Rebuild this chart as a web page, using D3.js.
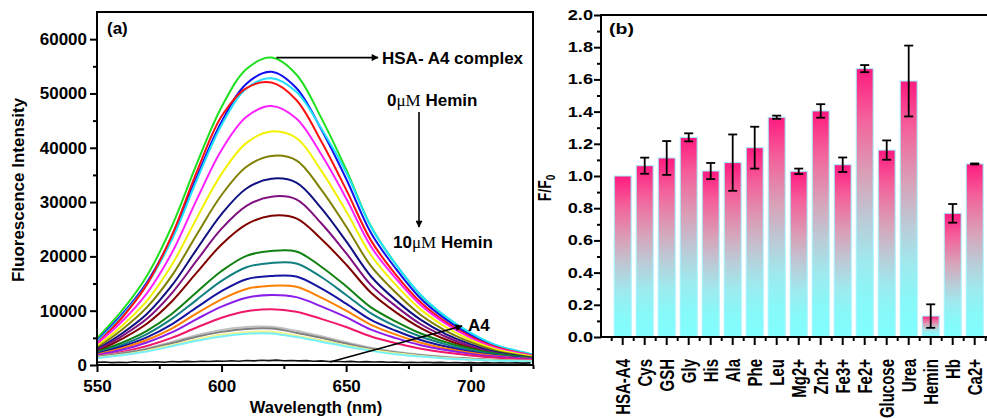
<!DOCTYPE html>
<html>
<head>
<meta charset="utf-8">
<script src="https://cdn.jsdelivr.net/npm/d3@7"></script>
<style>
  body { margin: 0; background: #fff; }
  svg { display: block; }
  text { font-family: Arial, "Liberation Sans", sans-serif; font-weight: bold; fill: #000; }
  .axis path { display: none; }
  .axis line { stroke: #000; stroke-width: 2; }
  .axis text { font-size: 17px; }
</style>
</head>
<body>
<svg id="chart" width="987" height="419"></svg>
<script>
// ---------- Panel (a): fluorescence emission spectra ----------
const wavelengths = [550, 560, 570, 580, 590, 600, 610, 620, 630, 640, 650, 660, 670, 680, 690, 700, 710, 725];

// HSA-A4 complex at 0 µM hemin down to 10 µM hemin
const specGreen      = [4900, 10000, 16400, 25500, 37000, 47500, 54500, 56600, 53500, 45500, 36000, 25500, 18500, 12800, 8800, 5800, 3600, 1900];
const specBlue       = [4500, 9300, 15200, 23600, 34600, 44800, 51800, 54000, 51000, 43400, 34300, 24300, 17700, 12200, 8400, 5500, 3500, 1850];
const specCyan       = [4300, 9000, 14800, 23000, 34000, 44200, 50900, 52800, 50300, 43600, 35500, 25400, 18500, 12900, 8900, 5900, 3700, 1950];
const specRed        = [4000, 8700, 14800, 23800, 35500, 45800, 51000, 52000, 48800, 41200, 32300, 22900, 16600, 11500, 7900, 5200, 3300, 1750];
const specMagenta    = [3900, 8000, 13200, 20600, 30400, 39600, 45700, 47700, 45400, 38800, 30700, 21800, 15900, 11000, 7600, 5000, 3150, 1700];
const specYellow     = [3500, 7200, 11800, 18400, 27000, 35200, 40900, 43000, 41800, 35800, 28300, 20200, 14700, 10200, 7000, 4600, 2900, 1550];
const specOlive      = [3200, 6500, 10600, 16400, 24000, 31300, 36500, 38500, 37700, 32300, 25500, 18200, 13300, 9200, 6300, 4200, 2650, 1400];
const specNavy       = [2900, 5800, 9400, 14600, 21300, 27800, 32500, 34300, 33600, 28900, 22800, 16300, 11900, 8300, 5700, 3800, 2400, 1300];
const specPurple     = [2700, 5300, 8500, 13200, 19200, 25100, 29300, 31000, 30500, 26100, 20600, 14700, 10800, 7500, 5200, 3450, 2200, 1200];
const specMaroon     = [2450, 4800, 7600, 11700, 17000, 22200, 25900, 27500, 27000, 23200, 18500, 13300, 9700, 6800, 4700, 3150, 2000, 1100];
const specDarkGreen  = [2400, 4100, 6300, 9400, 13400, 17300, 20100, 21000, 20900, 18100, 14500, 10600, 8000, 5800, 4200, 3000, 2100, 1300];
const specTeal       = [2200, 3700, 5700, 8500, 12000, 15500, 18000, 18800, 18700, 16200, 12900, 9500, 7100, 5200, 3800, 2700, 1900, 1200];
const specDarkBlue   = [2100, 3400, 5100, 7500, 10600, 13600, 15800, 16400, 16300, 14100, 11300, 8300, 6300, 4600, 3400, 2450, 1750, 1150];
const specOrange     = [1950, 3100, 4600, 6700, 9500, 12100, 14000, 14600, 14400, 12400, 10000, 7400, 5600, 4100, 3050, 2250, 1650, 1100];
const specViolet     = [1800, 2800, 4150, 6000, 8450, 10750, 12400, 12900, 12500, 10800, 8800, 6500, 4950, 3650, 2750, 2050, 1550, 1050];
const specCrimson    = [1600, 2400, 3500, 5000, 6900, 8700, 9900, 10250, 9800, 8500, 7000, 5250, 4000, 3000, 2300, 1750, 1350, 950];
const specLightGray  = [1550, 2200, 3050, 4250, 5500, 6450, 7000, 7050, 6300, 5300, 4200, 3200, 2450, 1900, 1500, 1200, 950, 800];
const specGray       = [1450, 2100, 2900, 4000, 5200, 6100, 6650, 6700, 5950, 5000, 3950, 3000, 2300, 1800, 1400, 1150, 900, 750];
const specPaleYellow = [1350, 1900, 2650, 3650, 4700, 5550, 6050, 6100, 5400, 4550, 3600, 2750, 2150, 1650, 1300, 1050, 850, 700];
const specPaleCyan   = [1250, 1800, 2500, 3450, 4450, 5250, 5750, 5800, 5150, 4300, 3400, 2600, 2000, 1550, 1200, 980, 800, 650];

const spectra = [specGreen, specBlue, specCyan, specRed, specMagenta, specYellow, specOlive, specNavy,
  specPurple, specMaroon, specDarkGreen, specTeal, specDarkBlue, specOrange, specViolet, specCrimson,
  specLightGray, specGray, specPaleYellow, specPaleCyan];
const spectraColors = ["#1ee01e", "#1010f0", "#20e0ff", "#ff1010", "#ff20ff", "#f2f200", "#808000", "#101080",
  "#801080", "#800000", "#108010", "#108080", "#1414a0", "#ff8000", "#8c1ce8", "#f01868",
  "#c0c0c0", "#808080", "#f2f28a", "#78f0f8"];

// A4 alone (free probe), sampled every 3 nm
const a4Wavelengths = [550, 553, 556, 559, 562, 565, 568, 571, 574, 577, 580, 583, 586, 589, 592, 595, 598, 601, 604, 607,
  610, 613, 616, 619, 622, 625, 628, 631, 634, 637, 640, 643, 646, 649, 652, 655, 658, 661, 664, 667,
  670, 673, 676, 679, 682, 685, 688, 691, 694, 697, 700, 703, 706, 709, 712, 715, 718, 721, 724];
const a4Intensity = [480, 560, 430, 520, 470, 590, 500, 560, 610, 520, 640, 580, 660, 600, 700, 640, 720, 680, 780, 700,
  820, 760, 880, 800, 900, 780, 840, 760, 800, 700, 760, 640, 700, 600, 660, 560, 620, 540, 580, 500,
  560, 470, 520, 450, 500, 430, 480, 420, 460, 400, 440, 380, 430, 370, 420, 360, 400, 350, 390];

const xTicksA = [550, 600, 650, 700];
const xMinorA = [575, 625, 675, 725];
const yTicksA = [0, 10000, 20000, 30000, 40000, 50000, 60000];
const yMinorA = [5000, 15000, 25000, 35000, 45000, 55000];

// ---------- Panel (b): selectivity ----------
const categories = ["HSA-A4", "Cys", "GSH", "Gly", "His", "Ala", "Phe", "Leu", "Mg2+", "Zn2+",
  "Fe3+", "Fe2+", "Glucose", "Urea", "Hemin", "Hb", "Ca2+"];
const ratioValues = [1.00, 1.064, 1.112, 1.24, 1.031, 1.083, 1.176, 1.365, 1.029, 1.404,
  1.070, 1.667, 1.161, 1.59, 0.130, 0.768, 1.075];
const ratioErrors = [0, 0.05, 0.105, 0.025, 0.05, 0.175, 0.13, 0.01, 0.017, 0.042,
  0.045, 0.022, 0.06, 0.22, 0.073, 0.058, 0.003];
const yTicksB = [0, 0.2, 0.4, 0.6, 0.8, 1.0, 1.2, 1.4, 1.6, 1.8, 2.0];
const yMinorB = [0.1, 0.3, 0.5, 0.7, 0.9, 1.1, 1.3, 1.5, 1.7, 1.9];

const svg = d3.select("#chart");
const defs = svg.append("defs");

defs.append("marker")
  .attr("id", "arrowHead")
  .attr("viewBox", "0 0 10 10")
  .attr("refX", 9).attr("refY", 5)
  .attr("markerWidth", 9).attr("markerHeight", 7)
  .attr("markerUnits", "userSpaceOnUse")
  .attr("orient", "auto")
  .append("path").attr("d", "M0,0L10,5L0,10Z").attr("fill", "#000");

const grad = defs.append("linearGradient")
  .attr("id", "barFill").attr("x1", 0).attr("y1", 0).attr("x2", 0).attr("y2", 1);
[[0, "#ff1a80"], [0.18, "#f4609a"], [0.4, "#d8a2b8"], [0.56, "#bccad6"], [0.72, "#9eeaee"], [0.86, "#88f8f8"], [1, "#80ffff"]]
  .forEach(([o, c]) => grad.append("stop").attr("offset", o).attr("stop-color", c));

// ===== Panel (a) =====
const xA = d3.scaleLinear().domain([550, 725]).range([97, 533]);
const yA = d3.scaleLinear().domain([0, 65000]).range([365, 12]);

defs.append("clipPath").attr("id", "clipA")
  .append("rect").attr("x", 97).attr("y", 12).attr("width", 436).attr("height", 353);

const lineA = d3.line()
  .x((d, i) => xA(wavelengths[i]))
  .y(d => yA(d))
  .curve(d3.curveCatmullRom.alpha(0.5));

const curves = svg.append("g").attr("clip-path", "url(#clipA)");
spectra.forEach((s, i) => {
  curves.append("path")
    .attr("d", lineA(s))
    .attr("fill", "none")
    .attr("stroke", spectraColors[i])
    .attr("stroke-width", 2);
});
curves.append("path")
  .attr("d", d3.line().x((d, i) => xA(a4Wavelengths[i])).y(d => yA(d))(a4Intensity))
  .attr("fill", "none").attr("stroke", "#111").attr("stroke-width", 1.6);

// axes of panel (a)
svg.append("g").attr("class", "axis").attr("transform", "translate(97,0)")
  .call(d3.axisLeft(yA).tickValues(yTicksA).tickFormat(d3.format("d")).tickSize(7).tickPadding(3).tickSizeOuter(0));
svg.append("g").attr("class", "axis").attr("transform", "translate(97,0)")
  .call(d3.axisLeft(yA).tickValues(yMinorA).tickFormat("").tickSize(4).tickSizeOuter(0));
svg.append("g").attr("class", "axis").attr("transform", "translate(0,365)")
  .call(d3.axisBottom(xA).tickValues(xTicksA).tickFormat(d3.format("d")).tickSize(7).tickPadding(8).tickSizeOuter(0));
svg.append("g").attr("class", "axis").attr("transform", "translate(0,365)")
  .call(d3.axisBottom(xA).tickValues(xMinorA).tickFormat("").tickSize(4).tickSizeOuter(0));

svg.append("rect").attr("x", 97).attr("y", 12).attr("width", 436).attr("height", 353)
  .attr("fill", "none").attr("stroke", "#000").attr("stroke-width", 2);

svg.append("text").attr("x", 107).attr("y", 34).style("font-size", "17px").text("(a)");
svg.append("text").attr("transform", "translate(24,190) rotate(-90)")
  .attr("text-anchor", "middle").style("font-size", "17px").text("Fluorescence Intensity");
svg.append("text").attr("x", 316).attr("y", 413)
  .attr("text-anchor", "middle").style("font-size", "16.5px").text("Wavelength (nm)");

// annotations of panel (a)
const arrow = (x1, y1, x2, y2) => svg.append("line")
  .attr("x1", x1).attr("y1", y1).attr("x2", x2).attr("y2", y2)
  .attr("stroke", "#000").attr("stroke-width", 1.6).attr("marker-end", "url(#arrowHead)");

arrow(xA(622), yA(d3.max(specGreen)), 378, yA(d3.max(specGreen)));
svg.append("text").attr("x", 382).attr("y", 64).style("font-size", "17px").text("HSA- A4 complex");

const hemLabel = (x, y, conc) => {
  const t = svg.append("text").attr("x", x).attr("y", y).style("font-size", "17px");
  t.append("tspan").text(conc);
  t.append("tspan").style("font-family", "'Liberation Serif', 'Times New Roman', serif")
    .style("font-weight", "normal").text("\u03bcM");
  t.append("tspan").text(" Hemin");
};
hemLabel(387, 106, "0");
arrow(419, 112, 419, 227);
hemLabel(393, 248, "10");

arrow(330, 362, 462, 326);
svg.append("text").attr("x", 468).attr("y", 331).style("font-size", "17px").text("A4");

// ===== Panel (b) =====
const xB = d3.scaleBand().domain(categories).range([611.7, 985.7]).paddingInner(0.23).paddingOuter(0.115);
const yB = d3.scaleLinear().domain([0, 2]).range([337, 15]);

svg.append("g").selectAll("rect").data(categories).join("rect")
  .attr("x", d => xB(d))
  .attr("y", (d, i) => yB(ratioValues[i]))
  .attr("width", xB.bandwidth())
  .attr("height", (d, i) => yB(0) - yB(ratioValues[i]))
  .attr("fill", "url(#barFill)")
  .attr("stroke", "#9ff4ff").attr("stroke-width", 1);

const errG = svg.append("g").attr("stroke", "#000").attr("stroke-width", 1.8);
categories.forEach((c, i) => {
  const e = ratioErrors[i];
  if (!e) return;
  const cx = xB(c) + xB.bandwidth() / 2;
  const top = yB(ratioValues[i] + e), bot = yB(ratioValues[i] - e);
  errG.append("line").attr("x1", cx).attr("x2", cx).attr("y1", top).attr("y2", bot);
  errG.append("line").attr("x1", cx - 4.5).attr("x2", cx + 4.5).attr("y1", top).attr("y2", top);
  errG.append("line").attr("x1", cx - 4.5).attr("x2", cx + 4.5).attr("y1", bot).attr("y2", bot);
});

// y axis of panel (b)
const yAxB = svg.append("g").attr("class", "axis").attr("transform", "translate(601,0)")
  .call(d3.axisLeft(yB).tickValues(yTicksB).tickFormat(d3.format(".1f")).tickSize(7).tickPadding(1).tickSizeOuter(0));
yAxB.selectAll("text").style("font-size", "14px").each(function () {
  const x = +this.getAttribute("x");
  this.setAttribute("x", 0);
  this.setAttribute("transform", `translate(${x},0) scale(1.3,1)`);
});
svg.append("g").attr("class", "axis").attr("transform", "translate(601,0)")
  .call(d3.axisLeft(yB).tickValues(yMinorB).tickFormat("").tickSize(4).tickSizeOuter(0));

// x axis of panel (b): major ticks at bar centres, minor ticks between bars
svg.append("g").attr("class", "axis").attr("transform", "translate(0,337)")
  .call(d3.axisBottom(xB).tickFormat("").tickSize(8).tickSizeOuter(0));
const gap = xB.step() - xB.bandwidth();
const minorB = categories.map(c => xB(c) - gap / 2).concat([xB(categories[categories.length - 1]) + xB.bandwidth() + gap / 2]);
svg.append("g").selectAll("line").data(minorB).join("line")
  .attr("x1", d => d).attr("x2", d => d).attr("y1", 337).attr("y2", 341)
  .attr("stroke", "#000").attr("stroke-width", 2);

svg.append("g").selectAll("g").data(categories).join("g")
  .attr("transform", d => `translate(${xB(d) + xB.bandwidth() / 2},359) scale(1.3,1) rotate(-90)`)
  .append("text").attr("text-anchor", "end").attr("dy", "0.36em").style("font-size", "15px").text(d => d);

// frame of panel (b)
const frameB = svg.append("g").attr("stroke", "#000").attr("stroke-width", 2);
frameB.append("line").attr("x1", 601).attr("x2", 601).attr("y1", 14).attr("y2", 338);
frameB.append("line").attr("x1", 600).attr("x2", 987).attr("y1", 15).attr("y2", 15);
frameB.append("line").attr("x1", 600).attr("x2", 987).attr("y1", 337).attr("y2", 337);

svg.append("g").attr("transform", "translate(609,34) scale(1.3,1)")
  .append("text").style("font-size", "15px").text("(b)");

const fLabel = svg.append("g").attr("transform", "translate(551,188) scale(1.3,1) rotate(-90)")
  .append("text").attr("text-anchor", "middle").style("font-size", "14px");
fLabel.append("tspan").text("F/F");
fLabel.append("tspan").attr("dy", "0.3em").style("font-size", "10px").text("0");
</script>
</body>
</html>
